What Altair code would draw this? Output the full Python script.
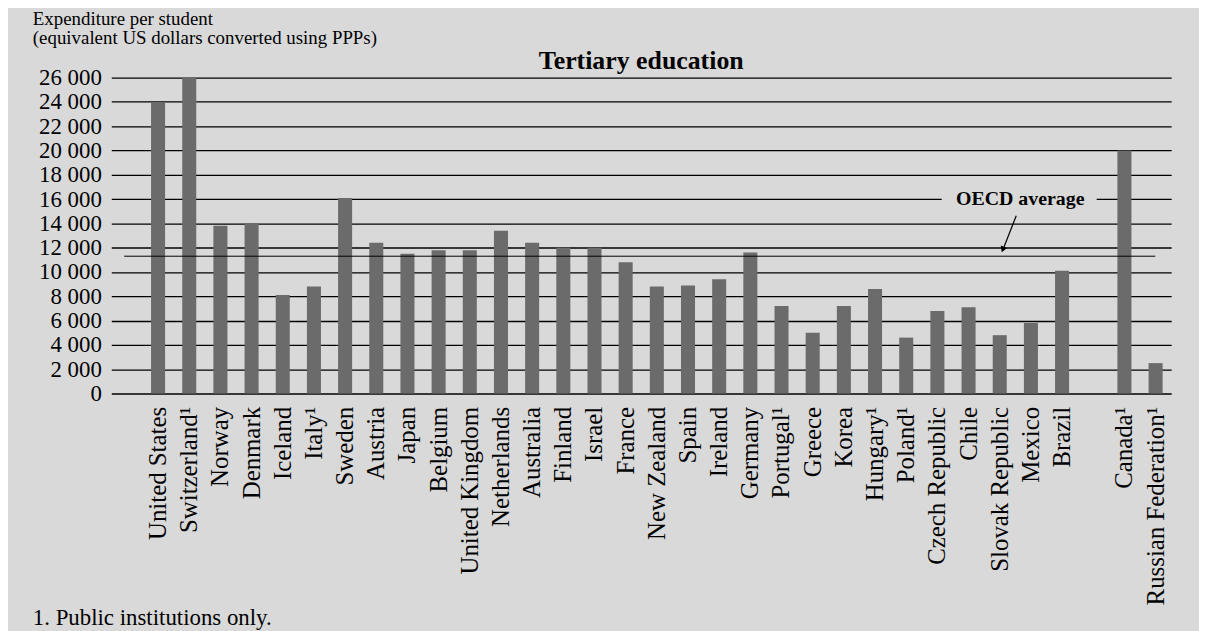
import altair as alt
import pandas as pd

FONT = "Liberation Serif"
BG = "#d9d9d9"
BAR = "#6b6b6b"

countries = ["United States", "Switzerland¹", "Norway", "Denmark", "Iceland", "Italy¹",
             "Sweden", "Austria", "Japan", "Belgium", "United Kingdom", "Netherlands",
             "Australia", "Finland", "Israel", "France", "New Zealand", "Spain", "Ireland",
             "Germany", "Portugal¹", "Greece", "Korea", "Hungary¹", "Poland¹",
             "Czech Republic", "Chile", "Slovak Republic", "Mexico", "Brazil",
             "Canada¹", "Russian Federation¹"]
values = [24000, 26000, 13800, 14000, 8100, 8800,
          16100, 12400, 11500, 11800, 11800, 13400,
          12400, 12000, 12000, 10800, 8800, 8900, 9400,
          11600, 7200, 5000, 7200, 8600, 4600,
          6800, 7100, 4800, 5800, 10100,
          20000, 2500]
oecd_average = [11300]
y_ticks = list(range(0, 26001, 2000))

# spacer slots: one before the first bar, one between Brazil and the non-OECD partners
x_domain = ["_pad"] + countries[:30] + ["_gap"] + countries[30:]

df = pd.DataFrame({"country": countries, "value": values})

W, H = 1067, 318

y_axis = alt.Axis(values=y_ticks, title=None, labelFont=FONT, labelFontSize=23,
                  labelColor="black", labelPadding=10, grid=True,
                  gridColor="black", gridWidth=1.3, gridOpacity=1,
                  domain=False, ticks=False,
                  labelExpr="replace(format(datum.value, ','), ',', ' ')")
y_scale = alt.Scale(domain=[0, 26000], nice=False)

bars = alt.Chart(df).mark_bar(color=BAR).encode(
    x=alt.X("country:N",
            scale=alt.Scale(domain=x_domain, paddingInner=0.55, paddingOuter=0.275),
            sort=x_domain,
            axis=alt.Axis(title=None, labelAngle=-90, labelAlign="right",
                          labelBaseline="middle", labelPadding=13, labelFont=FONT,
                          labelFontSize=25, labelColor="black", domain=False,
                          ticks=False, grid=False, labelOverlap=False, labelLimit=400,
                          labelExpr="indexof(datum.value, '_') == 0 ? '' : datum.value")),
    y=alt.Y("value:Q", scale=y_scale, axis=y_axis),
)

oecd = alt.Chart(pd.DataFrame({"value": oecd_average})).mark_rule(
    color="black", strokeWidth=1).encode(
    y=alt.Y("value:Q", scale=y_scale, axis=y_axis),
    x=alt.value(13), x2=alt.value(1051),
)

one = pd.DataFrame({"t": ["OECD average"]})
label_bg = alt.Chart(one).mark_rect(color=BG).encode(
    x=alt.value(836), x2=alt.value(992), y=alt.value(113), y2=alt.value(131))
label = alt.Chart(one).mark_text(font=FONT, fontSize=20, fontWeight="bold",
                                 align="center", baseline="middle", color="black").encode(
    x=alt.value(915), y=alt.value(122), text="t:N")
arrow = alt.Chart(one).mark_rule(color="black", strokeWidth=1.2).encode(
    x=alt.value(911), y=alt.value(139), x2=alt.value(898.5), y2=alt.value(171))
head = alt.Chart(one).mark_point(shape="triangle-down", filled=True, color="black",
                                 size=45, angle=21.5, opacity=1).encode(
    x=alt.value(897.5), y=alt.value(173))

texts = pd.DataFrame({
    "t": ["Tertiary education", "Expenditure per student",
          "(equivalent US dollars converted using PPPs)", "1. Public institutions only."],
})
title = alt.Chart(texts.iloc[[0]]).mark_text(font=FONT, fontSize=26, fontWeight="bold",
                                             align="center", baseline="alphabetic",
                                             color="black").encode(
    x=alt.value(W / 2), y=alt.value(-9), text="t:N")
ytitle1 = alt.Chart(texts.iloc[[1]]).mark_text(font=FONT, fontSize=19, align="left",
                                               baseline="alphabetic", color="black").encode(
    x=alt.value(-79), y=alt.value(-53), text="t:N")
ytitle2 = alt.Chart(texts.iloc[[2]]).mark_text(font=FONT, fontSize=19, align="left",
                                               baseline="alphabetic", color="black").encode(
    x=alt.value(-79), y=alt.value(-34), text="t:N")
foot = alt.Chart(texts.iloc[[3]]).mark_text(font=FONT, fontSize=23, align="left",
                                            baseline="alphabetic", color="black").encode(
    x=alt.value(-79), y=alt.value(551), text="t:N")

chart = alt.layer(bars, oecd, label_bg, label, arrow, head, title, ytitle1, ytitle2, foot).properties(
    width=W, height=H, background=BG,
    padding={"left": 104, "top": 68, "right": 28, "bottom": 237},
    autosize=alt.AutoSizeParams(type="none"),
).configure_view(strokeWidth=0)

chart.save("out.html", embed_options={"renderer": "svg", "actions": False})
